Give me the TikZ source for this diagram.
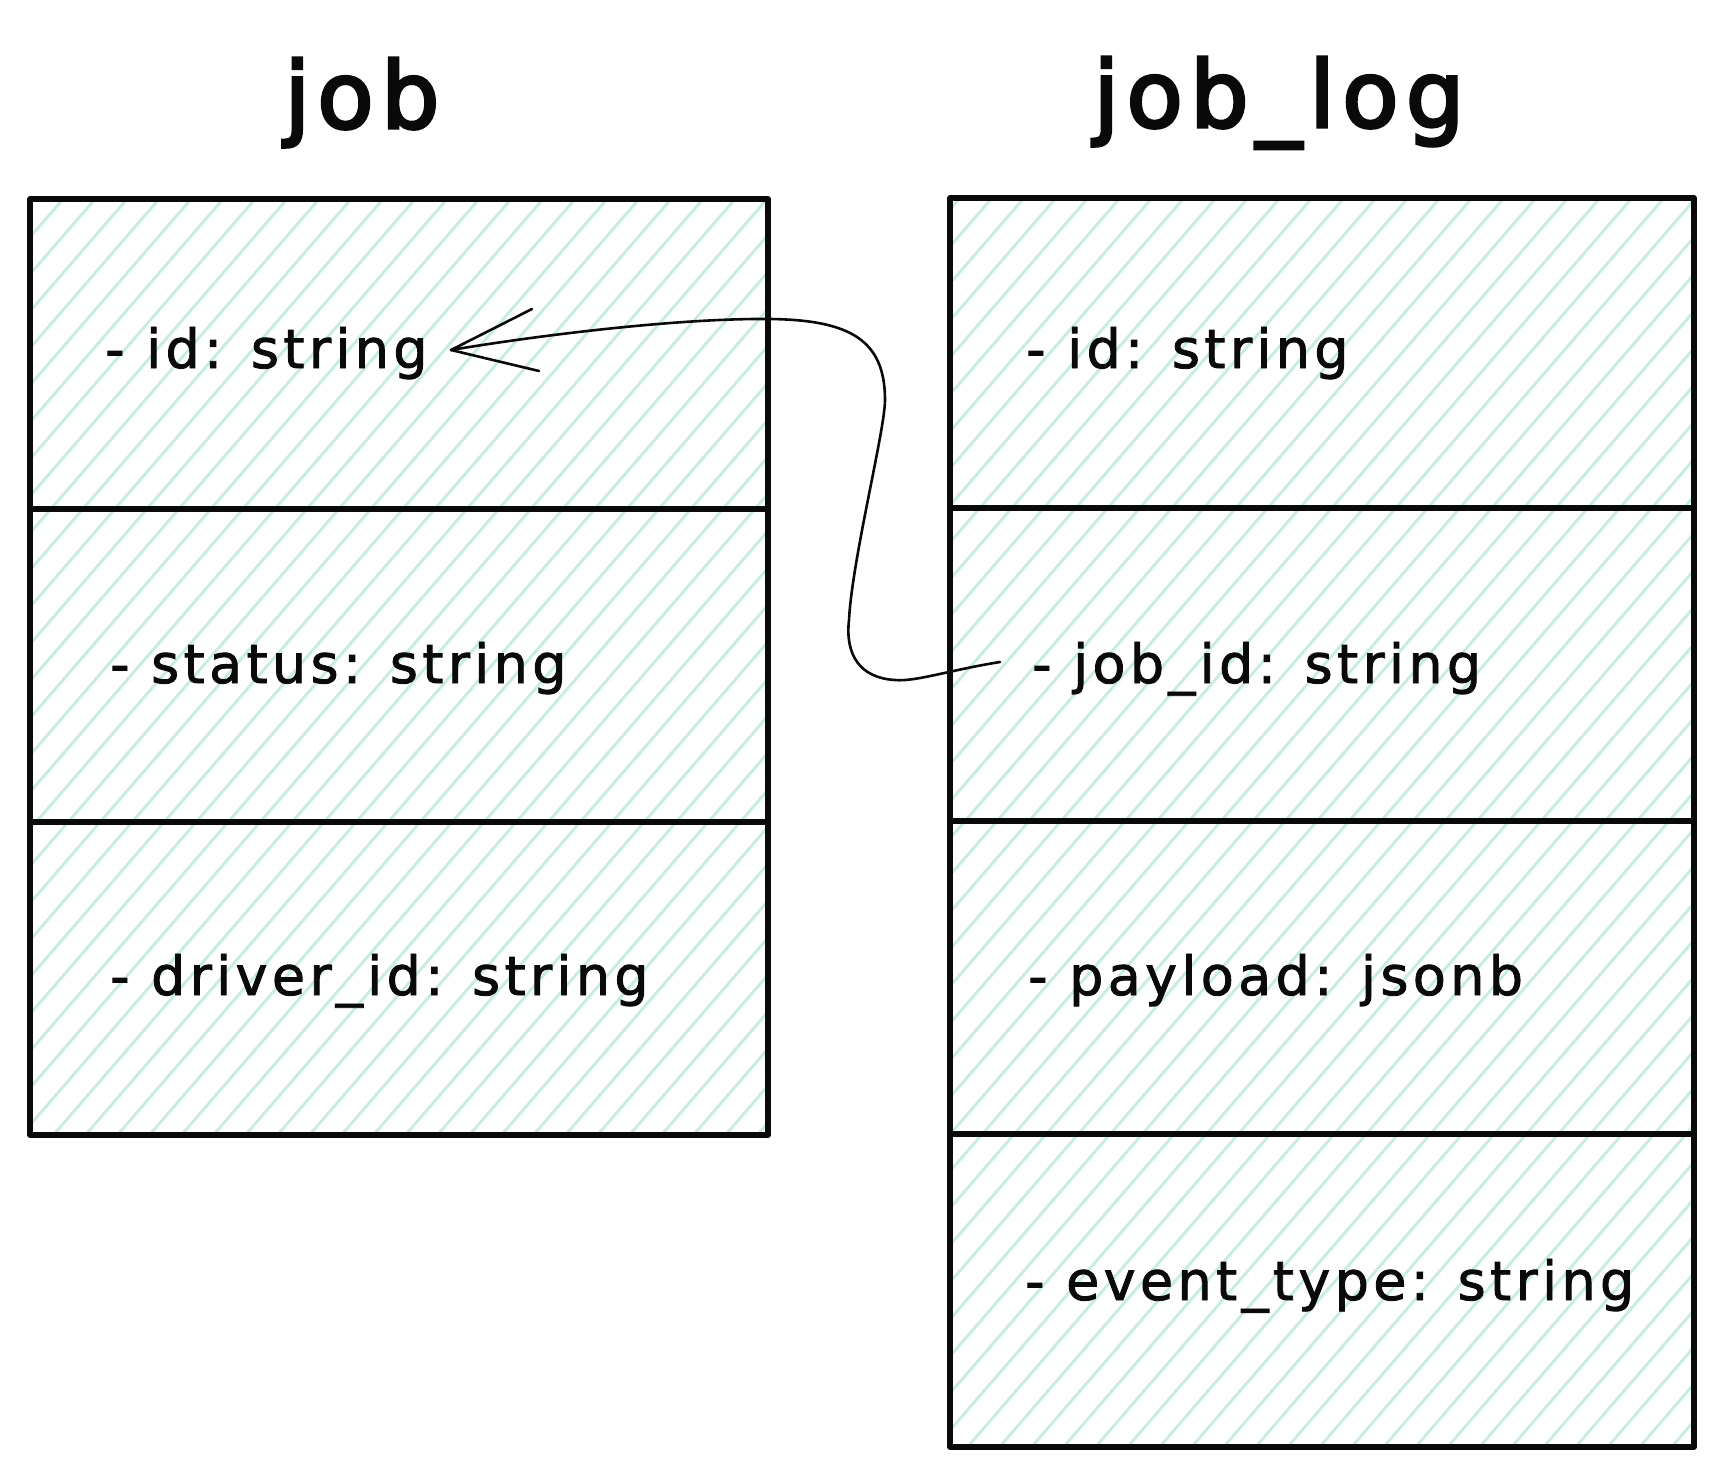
\documentclass[tikz,border=0pt]{standalone}
\usepackage{fontspec}
\newfontfamily\handfont{DejaVu Sans}[LetterSpace=8,FakeBold=1.6]
\newfontfamily\titlefont{DejaVu Sans}[LetterSpace=8,FakeBold=3.5]
\definecolor{hatchc}{RGB}{196,238,221}
\definecolor{inkc}{RGB}{10,10,10}
\begin{document}
\begin{tikzpicture}[x=1pt,y=-1pt,
  hatch/.style={draw=hatchc,line width=2.8pt},
  boxline/.style={draw=inkc,line width=5.5pt,line cap=round,line join=round},
  field/.style={anchor=base west,inner sep=0pt,text=inkc,font=\handfont\fontsize{54}{60}\selectfont},
  title/.style={anchor=base,inner sep=0pt,text=inkc,font=\titlefont\fontsize{92}{100}\selectfont},
  link/.style={draw=inkc,line width=2.6pt,line cap=round,line join=round}]
\useasboundingbox[fill=white] (0,0) rectangle (1716,1470);
% hatching left table
\begin{scope}
\clip (30,199) rectangle (768,1135);
\foreach \k in {-3,...,50} \draw[hatch] ({62+32*\k+200},{200-231}) -- ({62+32*\k-1300},{200+1503});
\end{scope}
% hatching right table
\begin{scope}
\clip (950,198) rectangle (1694,1447);
\foreach \k in {25,...,90} \draw[hatch] ({62+32*\k+200},{200-231}) -- ({62+32*\k-1300},{200+1503});
\end{scope}
% outlines
\draw[boxline] (30,199) rectangle (768,1135);
\draw[boxline] (30,509) -- (768,509);
\draw[boxline] (30,822) -- (768,822);
\draw[boxline] (950,198) rectangle (1694,1447);
\draw[boxline] (950,508) -- (1694,508);
\draw[boxline] (950,821) -- (1694,821);
\draw[boxline] (950,1134) -- (1694,1134);
% titles
\node[title] (tjob) at (362,128) {job};
\node[title] (tlog) at (1279,127) {job\_log};
% fields
\node[field] (jid) at (105,368) {- id: string};
\node[field] (jstatus) at (110,683) {- status: string};
\node[field] (jdriver) at (110,995) {- driver\_id: string};
\node[field] (lid) at (1026,368) {- id: string};
\node[field] (ljob) at (1032,683) {- job\_id: string};
\node[field] (lpay) at (1028,995) {- payload: jsonb};
\node[field] (levent) at (1025,1300) {- event\_type: string};
% connector
\coordinate (src) at (1000,662);
\coordinate (tip) at (451,350);
\draw[link] (src) .. controls (950,670) and (915,682) .. (895,680)
  .. controls (860,678) and (845,655) .. (849,620)
  .. controls (852,560) and (885,430) .. (885,400)
  .. controls (885,340) and (850,320) .. (770,319)
  .. controls (680,318) and (540,335) .. (tip);
\draw[link] (532,309) -- (tip) -- (539,371);
\end{tikzpicture}
\end{document}
